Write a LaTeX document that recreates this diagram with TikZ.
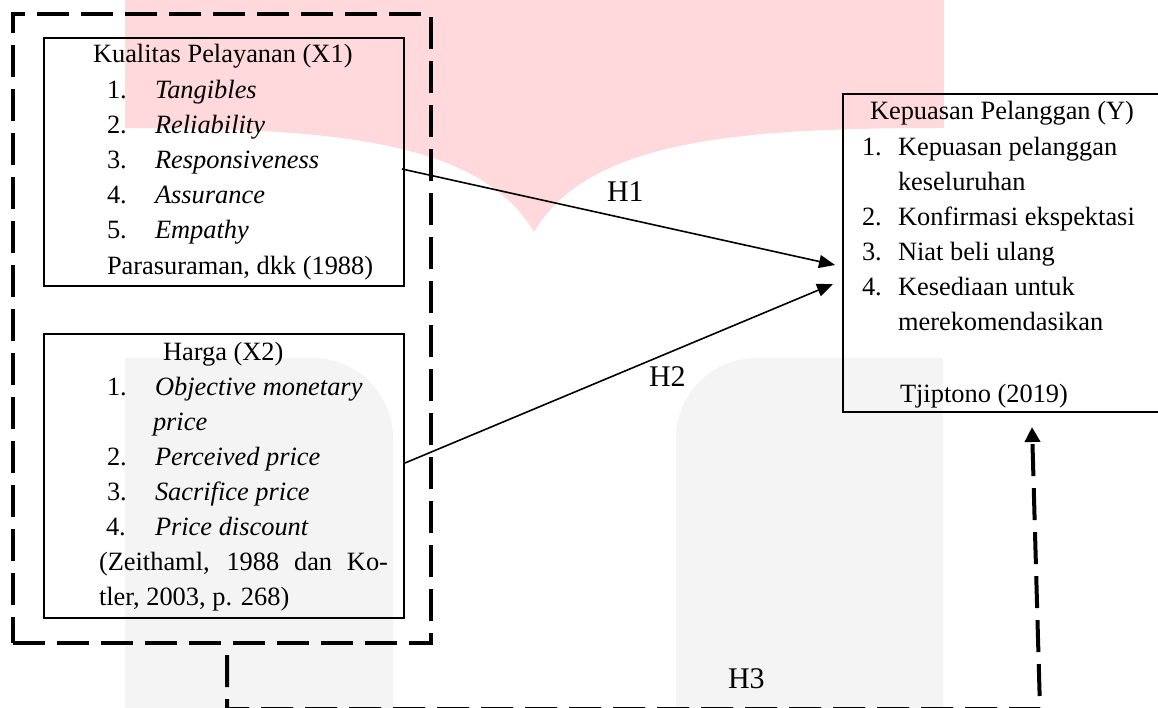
\documentclass[tikz,border=0pt]{standalone}
\usepackage{fontspec}
\setmainfont{Liberation Serif}
\usetikzlibrary{arrows.meta}
\definecolor{wmpink}{RGB}{255,217,220}
\definecolor{wmgray}{RGB}{244,244,244}
\tikzset{
  box/.style={draw=black, line width=2pt, inner sep=0pt, outer sep=0pt, anchor=north west},
  grpbox/.style={draw=black, line width=4pt, dash pattern=on 32pt off 12pt, inner sep=0pt, outer sep=0pt, anchor=north west},
  txt/.style={anchor=base west, inner sep=0pt, outer sep=0pt, font=\fontsize{26.4}{35}\selectfont},
  hlab/.style={anchor=base west, inner sep=0pt, outer sep=0pt, font=\fontsize{30}{36}\selectfont},
  arr/.style={draw=black, line width=1.6pt, -{Triangle[length=16pt,width=13pt]}},
  dline/.style={draw=black, line width=4pt, dash pattern=on 32pt off 12pt, -{Triangle[length=15pt,width=15pt]}}
}
\begin{document}
\begin{tikzpicture}[x=1pt,y=-1pt]
\useasboundingbox (0,0) rectangle (1158,708);
% watermark
\fill[wmpink] (125,0) -- (944,0) -- (944,128) .. controls (738,128) and (588,140) .. (534,232)
  .. controls (480,140) and (330,128) .. (125,128) -- cycle;
\fill[wmgray] (125,720) -- (125,358) -- (313,358) .. controls (357,358) and (393,394) .. (393,438) -- (393,720) -- cycle;
\fill[wmgray] (943,720) -- (943,358) -- (756,358) .. controls (712,358) and (676,394) .. (676,438) -- (676,720) -- cycle;

% outer dashed group
\node[grpbox, minimum width=418pt, minimum height=628.7pt] (grp) at (12.7,14) {};
% boxes
\node[box, minimum width=360pt, minimum height=247.4pt] (x1box) at (44,38.3) {};
\node[box, minimum width=360pt, minimum height=283.7pt] (x2box) at (44,334) {};
\node[box, minimum width=318pt, minimum height=318pt] (ybox) at (842.7,94) {};

% X1 text
\node[txt] (x1t) at (93,63) {Kualitas Pelayanan (X1)};
\node[txt] (x1n1) at (107,98.2) {1.};
\node[txt] (x1i1) at (155,98.2) {\textit{Tangibles}};
\node[txt] (x1n2) at (107,133.4) {2.};
\node[txt] (x1i2) at (155,133.4) {\textit{Reliability}};
\node[txt] (x1n3) at (107,168.6) {3.};
\node[txt] (x1i3) at (155,168.6) {\textit{Responsiveness}};
\node[txt] (x1n4) at (107,203.8) {4.};
\node[txt] (x1i4) at (155,203.8) {\textit{Assurance}};
\node[txt] (x1n5) at (107,239) {5.};
\node[txt] (x1i5) at (155,239) {\textit{Empathy}};
\node[txt] (x1src) at (107,274.2) {Parasuraman, dkk (1988)};

% X2 text
\node[txt] (x2t) at (163,360) {Harga (X2)};
\node[txt] (x2n1) at (107,395) {1.};
\node[txt] (x2i1) at (155,395) {\textit{Objective monetary}};
\node[txt] (x2i1b) at (153,430) {\textit{price}};
\node[txt] (x2n2) at (107,465) {2.};
\node[txt] (x2i2) at (155,465) {\textit{Perceived price}};
\node[txt] (x2n3) at (107,500) {3.};
\node[txt] (x2i3) at (155,500) {\textit{Sacrifice price}};
\node[txt] (x2n4) at (106,535) {4.};
\node[txt] (x2i4) at (155,535) {\textit{Price discount}};
\node[txt] (x2src1) at (99,570.5) {\makebox[289pt][s]{(Zeithaml, 1988 dan Ko-}};
\node[txt] (x2src2) at (99,605.7) {tler, 2003, p. 268)};

% Y text
\node[txt] (yt) at (870,120) {Kepuasan Pelanggan (Y)};
\node[txt] (yn1) at (862,155.1) {1.};
\node[txt] (yi1) at (898,155.1) {Kepuasan pelanggan};
\node[txt] (yi1b) at (898,190.2) {keseluruhan};
\node[txt] (yn2) at (862,225.3) {2.};
\node[txt] (yi2) at (898,225.3) {Konfirmasi ekspektasi};
\node[txt] (yn3) at (862,260.4) {3.};
\node[txt] (yi3) at (898,260.4) {Niat beli ulang};
\node[txt] (yn4) at (862,295.5) {4.};
\node[txt] (yi4) at (898,295.5) {Kesediaan untuk};
\node[txt] (yi4b) at (898,330.6) {merekomendasikan};
\node[txt] (ysrc) at (900,402) {Tjiptono (2019)};

% hypothesis labels
\node[hlab] (h1) at (607,202) {H1};
\node[hlab] (h2) at (649,386.7) {H2};
\node[hlab] (h3) at (728,688) {H3};

% connectors
\coordinate (h1s) at (402,169);
\coordinate (h1e) at (835,265);
\coordinate (h2s) at (405,463);
\coordinate (h2e) at (833,284);
\draw[arr] (h1s) -- (h1e);
\draw[arr] (h2s) -- (h2e);

\coordinate (h3a) at (227,655);
\coordinate (h3b) at (227,709);
\coordinate (h3c) at (1040,709);
\coordinate (h3d) at (1032,427);
\draw[dline] (h3a) -- (h3b) -- (h3c) -- (h3d);
\end{tikzpicture}
\end{document}
